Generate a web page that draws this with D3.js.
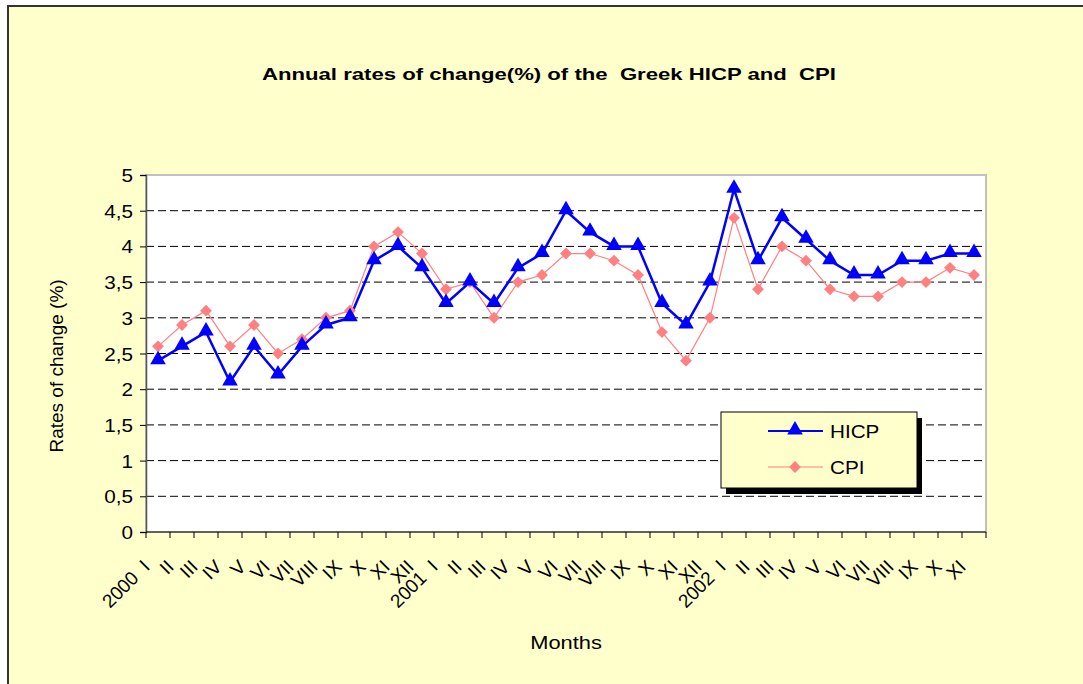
<!DOCTYPE html>
<html>
<head>
<meta charset="utf-8">
<script src="https://d3js.org/d3.v7.min.js"></script>
<style>
  body { margin: 0; background: #fff; }
  text { font-family: "Liberation Sans", Arial, sans-serif; }
</style>
</head>
<body>
<script>
// months shown on the x axis
const months = [
  "2000 I","II","III","IV","V","VI","VII","VIII","IX","X","XI","XII",
  "2001 I","II","III","IV","V","VI","VII","VIII","IX","X","XI","XII",
  "2002 I","II","III","IV","V","VI","VII","VIII","IX","X","XI"
];
const hicp = [2.4,2.6,2.8,2.1,2.6,2.2,2.6,2.9,3.0,3.8,4.0,3.7,
              3.2,3.5,3.2,3.7,3.9,4.5,4.2,4.0,4.0,3.2,2.9,3.5,
              4.8,3.8,4.4,4.1,3.8,3.6,3.6,3.8,3.8,3.9,3.9];
const cpi  = [2.6,2.9,3.1,2.6,2.9,2.5,2.7,3.0,3.1,4.0,4.2,3.9,
              3.4,3.5,3.0,3.5,3.6,3.9,3.9,3.8,3.6,2.8,2.4,3.0,
              4.4,3.4,4.0,3.8,3.4,3.3,3.3,3.5,3.5,3.7,3.6];
const yTicks = [0,0.5,1,1.5,2,2.5,3,3.5,4,4.5,5];

let W = 1083, H = 684;
let pLeft = 146, pRight = 986, pTop = 175, pBottom = 532;
let sx = 1.15; // the source picture is a bit wider than tall

let svg = d3.select('body').append('svg')
    .attr('width', W)
    .attr('height', H);

// horizontal text, slightly widened like the original
function label(g, x0, y0, txt, size, anchor) {
  return g.append('text')
    .attr('transform', `translate(${x0},${y0}) scale(${sx},1)`)
    .attr('text-anchor', anchor || 'start')
    .attr('font-size', size)
    .text(txt);
}

// chart background + frame
svg.append('rect')
    .attr('x', 8).attr('y', 6)
    .attr('width', W + 10).attr('height', H + 10)
    .attr('fill', '#ffffcc')
    .attr('stroke', '#333').attr('stroke-width', 2);

svg.append('rect')
    .attr('x', pLeft).attr('y', pTop)
    .attr('width', pRight - pLeft).attr('height', pBottom - pTop)
    .attr('fill', '#fff')
    .attr('stroke', '#c0c0c0').attr('stroke-width', 2);

let x = d3.scaleBand().domain(d3.range(months.length)).range([pLeft, pRight]);
let y = d3.scaleLinear().domain([0, 5]).range([pBottom, pTop]);
let cx = i => x(i) + x.bandwidth() / 2;

// dashed gridlines
svg.append('g').selectAll('line')
    .data(yTicks.filter(v => v > 0 && v < 5))
    .join('line')
      .attr('x1', pLeft).attr('x2', pRight)
      .attr('y1', d => y(d)).attr('y2', d => y(d))
      .attr('stroke', '#000').attr('stroke-dasharray', '8,4');

// y axis
let fmt = d => String(d).replace('.', ',');
let yAxis = svg.append('g')
    .attr('transform', `translate(${pLeft},0)`)
    .call(d3.axisLeft(y).tickValues(yTicks).tickFormat(fmt).tickSize(6).tickPadding(5));
yAxis.select('.domain').attr('stroke', '#555').attr('stroke-width', 1.5);
yAxis.selectAll('.tick line').attr('stroke', '#000');
yAxis.selectAll('text').remove();
yAxis.selectAll('.tick').each(function(d) {
  label(d3.select(this), -13, 6.5, fmt(d), 18, 'end').attr('fill', '#000');
});

// x axis: ticks on band edges
let xg = svg.append('g').attr('transform', `translate(0,${pBottom})`);
xg.append('line').attr('x1', pLeft).attr('x2', pRight).attr('stroke', '#000');
xg.selectAll('line.t')
    .data(d3.range(months.length + 1))
    .join('line').attr('class', 't')
      .attr('x1', i => pLeft + i * x.step()).attr('x2', i => pLeft + i * x.step())
      .attr('y1', 0).attr('y2', 6).attr('stroke', '#000');
xg.selectAll('text')
    .data(months)
    .join('text')
      .attr('transform', (d, i) => `translate(${cx(i) - 7},${36}) rotate(-45)`)
      .attr('text-anchor', 'end')
      .attr('font-size', 19)
      .style('white-space', 'pre')
      .text(d => d.replace(' ', '  '));

// lines
let line = d3.line().x((d, i) => cx(i)).y(d => y(d));

svg.append('path').datum(cpi)
    .attr('d', line).attr('fill', 'none')
    .attr('stroke', '#ff8080').attr('stroke-width', 1.2);
svg.append('path').datum(hicp)
    .attr('d', line).attr('fill', 'none')
    .attr('stroke', '#0000ff').attr('stroke-width', 2.5);

let diamond = d3.symbol().type(d3.symbolDiamond2).size(90);
let tri = d3.symbol().type(d3.symbolTriangle).size(105);

svg.append('g').selectAll('path')
    .data(cpi)
    .join('path')
      .attr('transform', (d, i) => `translate(${cx(i)},${y(d)})`)
      .attr('d', diamond).attr('fill', '#ff8080');
svg.append('g').selectAll('path')
    .data(hicp)
    .join('path')
      .attr('transform', (d, i) => `translate(${cx(i)},${y(d) - 1})`)
      .attr('d', tri).attr('fill', '#0000ff');

// titles
svg.append('text')
    .attr('x', 262).attr('y', 80)
    .attr('font-size', 17).attr('font-weight', 'bold')
    .attr('textLength', 574).attr('lengthAdjust', 'spacingAndGlyphs')
    .style('white-space', 'pre')
    .text('Annual rates of change(%) of the  Greek HICP and  CPI');

svg.append('text')
    .attr('transform', 'translate(63,366) rotate(-90)')
    .attr('text-anchor', 'middle')
    .attr('font-size', 19)
    .text('Rates of change (%)');

label(svg, 566, 649, 'Months', 19, 'middle');

// legend
let lg = svg.append('g').attr('transform', 'translate(721,412)');
lg.append('rect').attr('x', 5).attr('y', 6).attr('width', 196).attr('height', 76).attr('fill', '#000');
lg.append('rect').attr('width', 196).attr('height', 76)
    .attr('fill', '#ffffcc').attr('stroke', '#000').attr('stroke-width', 1);
let items = [
  {name: 'HICP', color: '#0000ff', sym: tri, w: 2},
  {name: 'CPI', color: '#ff8080', sym: diamond, w: 1.2}
];
items.forEach((it, k) => {
  let yy = 19 + k * 36;
  lg.append('line').attr('x1', 47).attr('x2', 102).attr('y1', yy).attr('y2', yy)
    .attr('stroke', it.color).attr('stroke-width', it.w);
  lg.append('path').attr('transform', `translate(74,${yy - (k ? 0 : 1)})`)
    .attr('d', it.sym).attr('fill', it.color);
  label(lg, 109, yy + 7, it.name, 18);
});
</script>
</body>
</html>
